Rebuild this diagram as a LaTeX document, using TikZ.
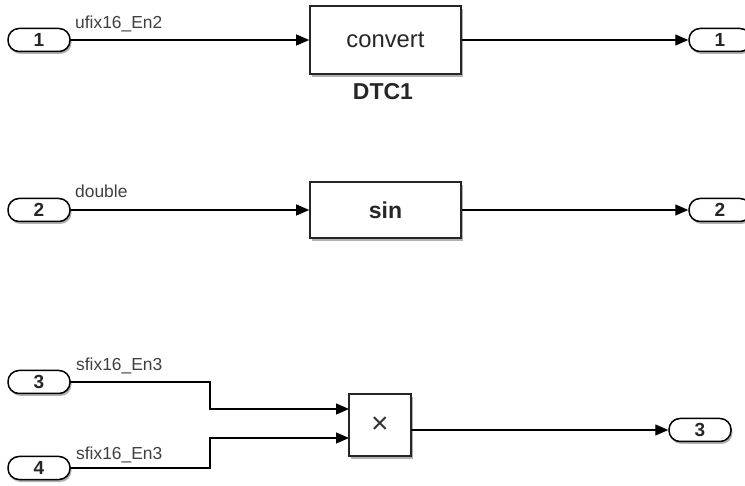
\documentclass[tikz,border=0pt]{standalone}
\usepackage{fontspec}
\setmainfont{Liberation Sans}
\usetikzlibrary{arrows.meta,shadows}
\tikzset{
  port/.style={draw=black, line width=1.5pt, fill=white, rounded corners=11pt,
    minimum width=62pt, minimum height=23pt, inner sep=0pt,
    font=\fontsize{19}{20}\selectfont\bfseries, text=black!85,
    drop shadow={shadow xshift=1.5pt, shadow yshift=-2.5pt, fill=black, opacity=0.3}},
  blk/.style={draw=black!85, line width=1.6pt, fill=white, inner sep=0pt,
    drop shadow={shadow xshift=2pt, shadow yshift=-3pt, fill=black, opacity=0.3}},
  sig/.style={draw=black, line width=1.3pt, -{Triangle[length=13pt,width=11pt]}},
  lbl/.style={anchor=base west, inner sep=0pt, text=black!75,
    font=\fontsize{17.4}{20}\selectfont}
}
\begin{document}
\begin{tikzpicture}[x=1pt,y=-1pt]
\path[use as bounding box, fill=white] (0,0) rectangle (745,486);

% ports
\node[port] (in1) at (39,40) {1};
\node[port] (in2) at (39,210) {2};
\node[port] (in3) at (39,382) {3};
\node[port] (in4) at (39,468) {4};
\node[port] (out1) at (720,40) {1};
\node[port] (out2) at (720,210) {2};
\node[port] (out3) at (700,430) {3};

% blocks
\node[blk, minimum width=151pt, minimum height=68pt,
  font=\fontsize{23.8}{26}\selectfont, text=black!85] (dtc) at (385.5,40) {convert};
\node[anchor=base, inner sep=0pt, font=\fontsize{23}{26}\selectfont\bfseries, text=black!85]
  (dtcname) at (383,100) {DTC1};
\node[blk, minimum width=151pt, minimum height=56pt,
  font=\fontsize{23}{26}\selectfont\bfseries, text=black!85] (sin) at (385.5,210) {sin};
\node[blk, minimum width=62pt, minimum height=62pt,
  font=\fontsize{30}{32}\selectfont, text=black!80] (prod) at (380,425) {×};

% pin coordinates of product block
\coordinate (pin1) at (349,409);
\coordinate (pin2) at (349,438);
\coordinate (pout) at (411,430);

% signals
\draw[sig] (in1.east) -- (dtc.west);
\draw[sig] (dtc.east) -- (out1.west);
\draw[sig] (in2.east) -- (sin.west);
\draw[sig] (sin.east) -- (out2.west);
\draw[sig] (in3.east) -- (210,382) |- (pin1);
\draw[sig] (in4.east) -- (210,468) |- (pin2);
\draw[sig] (pout) -- (out3.west);

% signal labels
\node[lbl] (l1) at (75,28.5) {ufix16\_En2};
\node[lbl] (l2) at (75,198) {double};
\node[lbl] (l3) at (76,371) {sfix16\_En3};
\node[lbl] (l4) at (76,460) {sfix16\_En3};
\end{tikzpicture}
\end{document}
